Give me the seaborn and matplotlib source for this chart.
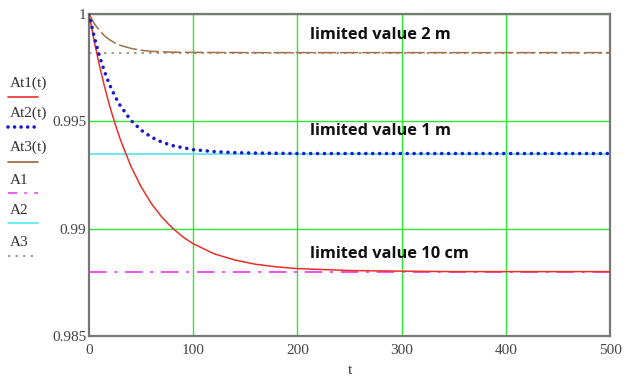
import matplotlib
matplotlib.use("Agg")
import matplotlib.pyplot as plt
import seaborn as sns
import pandas as pd
from matplotlib.lines import Line2D

# valores
t1 = [0, 5, 10, 15, 20, 25, 30, 40, 50, 60, 70, 80, 90, 100, 120, 140, 160, 180, 200, 250, 300, 350, 500]
at1 = [1.0, 0.99874, 0.99761, 0.99660, 0.99569, 0.99489, 0.99416, 0.99293, 0.99195, 0.99116,
       0.99053, 0.99003, 0.98962, 0.98930, 0.98883, 0.98854, 0.98834, 0.98822, 0.98814,
       0.98805, 0.98802, 0.98800, 0.98800]

t2 = [0, 5, 10, 15, 20, 25, 30, 40, 50, 60, 70, 80, 100, 120, 140, 160, 200, 300, 500]
at2 = [1.0, 0.99894, 0.99805, 0.99730, 0.99668, 0.99616, 0.99573, 0.99506, 0.99459, 0.99426,
       0.99403, 0.99387, 0.99368, 0.99359, 0.99354, 0.99352, 0.99350, 0.99350, 0.99350]

t3 = [0, 5, 10, 15, 20, 25, 30, 40, 50, 60, 80, 100, 150, 500]
at3 = [1.0, 0.99956, 0.99923, 0.99898, 0.99879, 0.99865, 0.99854, 0.99840, 0.99831,
       0.99826, 0.99822, 0.99821, 0.99820, 0.99820]

A1 = 0.988
A2 = 0.9935
A3 = 0.9982

xticks = [0, 100, 200, 300, 400, 500]
yticks = [0.985, 0.99, 0.995, 1]
ytick_labels = ["0.985", "0.99", "0.995", "1"]

notas = [(212, 0.99902, "limited value 2 m"),
         (212, 0.99455, "limited value 1 m"),
         (212, 0.98882, "limited value 10 cm")]

legenda = ["At1(t)", "At2(t)", "At3(t)", "A1", "A2", "A3"]

sns.set_theme(style="white")

fig = plt.figure(figsize=(6.24, 3.81), dpi=100)
ax = fig.add_axes([0.1426, 0.1181, 0.835, 0.8452])

c_red = "#e8302a"
c_blue = "#1a1acc"
c_brown = "#a07048"
c_mag = "#f050f0"
c_cyan = "#60e8f0"
c_a3 = "#9a8a70"

# grade verde
for x in xticks[1:-1]:
    ax.axvline(x, color="#2ee82e", lw=1.0, zorder=1)
for y in yticks[1:]:
    ax.axhline(y, color="#2ee82e", lw=1.0, zorder=1)

# linhas limite
ax.axhline(A1, color=c_mag, lw=1.4, linestyle=(0, (9, 4, 1.5, 4)), zorder=2)
ax.axhline(A2, color=c_cyan, lw=1.3, zorder=2)
ax.axhline(A3, color=c_a3, lw=1.2, linestyle=(0, (1.5, 3)), zorder=2)

sns.lineplot(x=t3, y=at3, ax=ax, color=c_brown, lw=1.1, linestyle=(0, (12, 2.5)), zorder=3)
sns.lineplot(x=t1, y=at1, ax=ax, color=c_red, lw=1.1, zorder=4)
sns.lineplot(x=t2, y=at2, ax=ax, color=c_blue, lw=2.6, linestyle=(0, (0.01, 1.9)),
             dash_capstyle="round", zorder=5)

for x, y, s in notas:
    ax.text(x, y, s, fontsize=11.8, fontweight="bold", family="Open Sans",
            color="#111111", va="center", ha="left")

ax.set_xlim(0, 500)
ax.set_ylim(0.985, 1.0)
ax.set_xticks(xticks)
ax.set_yticks(yticks)
ax.set_yticklabels(ytick_labels)
ax.tick_params(length=0, labelsize=11, labelcolor="#444444")
ax.tick_params(axis="x", pad=6)
ax.tick_params(axis="y", pad=2)
for lab in ax.get_xticklabels() + ax.get_yticklabels():
    lab.set_family("Liberation Serif")
ax.set_xlabel("t", family="Liberation Serif", fontsize=11, color="#333333", labelpad=5)
ax.set_ylabel("")

for sp in ax.spines.values():
    sp.set_color("#777777")
    sp.set_linewidth(1.6)

# legenda manual a esquerda (estilo Mathcad)
estilos = [dict(color=c_red, lw=1.2),
           dict(color=c_blue, lw=2.6, linestyle=(0, (0.01, 1.8)), dash_capstyle="round"),
           dict(color=c_brown, lw=1.3),
           dict(color=c_mag, lw=1.3, linestyle=(0, (5, 4, 1.5, 4))),
           dict(color=c_cyan, lw=1.3),
           dict(color=c_a3, lw=1.2, linestyle=(0, (1.5, 3)))]
y_txt = [83, 113, 147, 180, 210, 242]
y_lin = [97, 127, 162, 193, 223, 256]
for nome, st, yt, yl in zip(legenda, estilos, y_txt, y_lin):
    fig.text(10 / 624, 1 - yt / 381, nome, family="Liberation Serif", fontsize=11,
             color="#333333", va="center", ha="left")
    fig.add_artist(Line2D([8 / 624, 38 / 624], [1 - yl / 381, 1 - yl / 381], **st))

fig.savefig("out.png", dpi=100)
plt.close(fig)
